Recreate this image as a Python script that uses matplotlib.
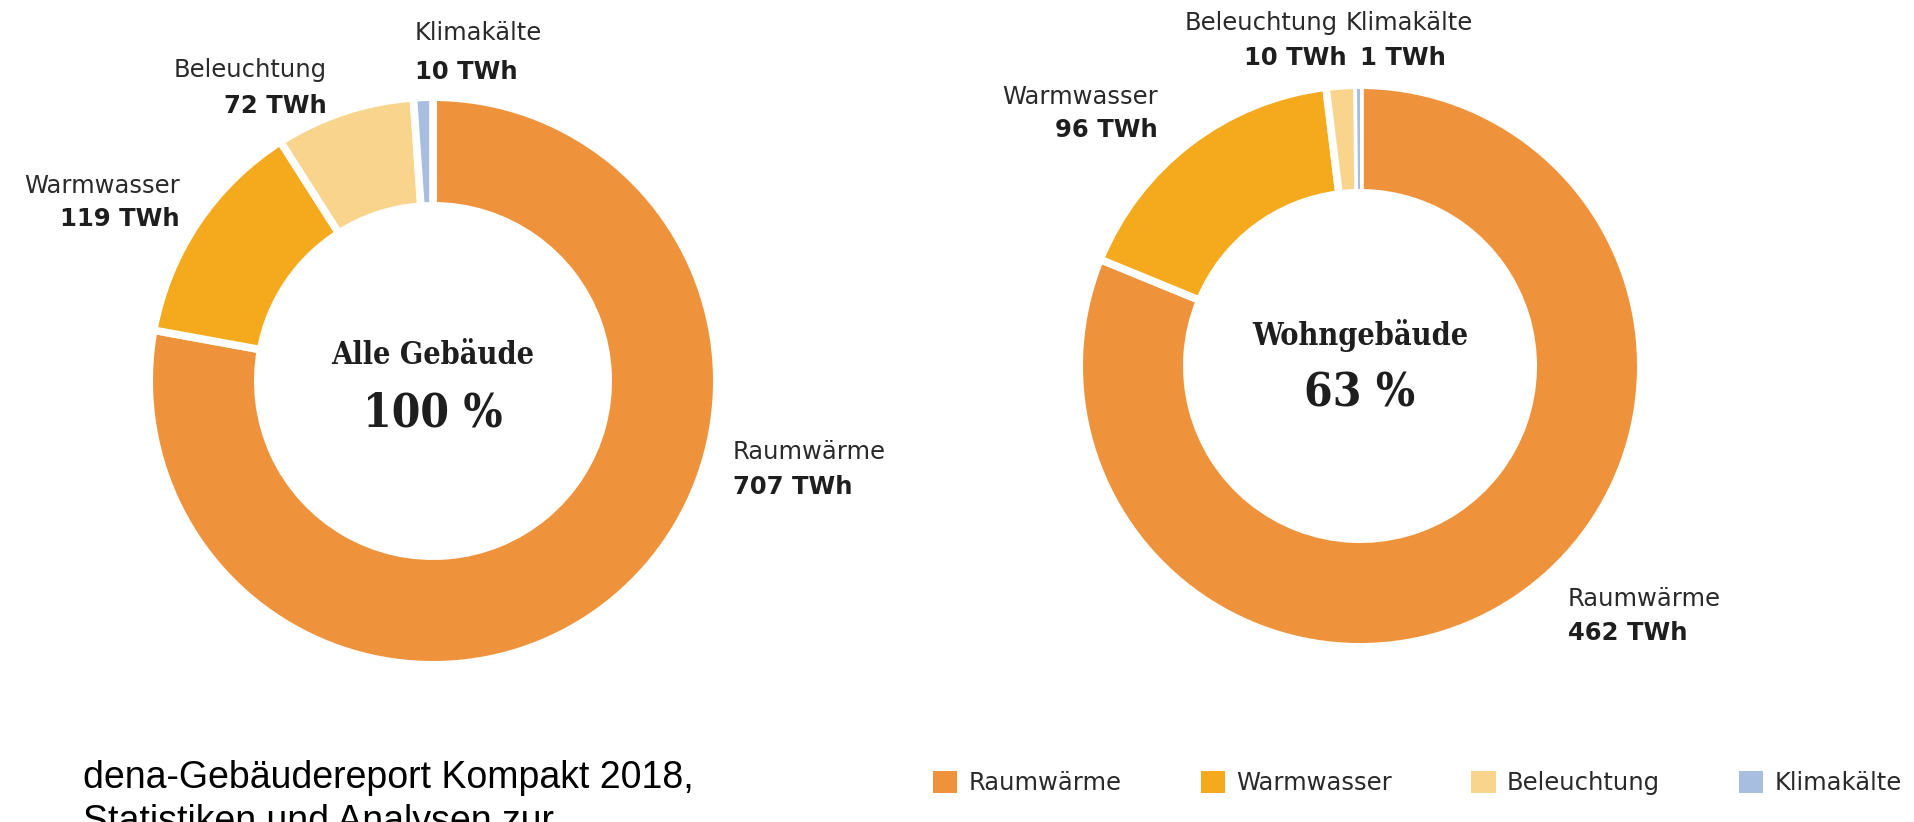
import math
import matplotlib
matplotlib.use("Agg")
import matplotlib.pyplot as plt
from matplotlib.patches import Patch

# ---------------- data ----------------
categories = ["Raumwärme", "Warmwasser", "Beleuchtung", "Klimakälte"]
colors = ["#EE933C", "#F4AA1C", "#F9D48D", "#A7BEE0"]
alle_values = [707, 119, 72, 10]
wohn_values = [462, 96, 10, 1]
unit = "TWh"
titles = ["Alle Gebäude", "Wohngebäude"]
shares = ["100 %", "63 %"]
source_lines = ["dena-Gebäudereport Kompakt 2018,", "Statistiken und Analysen zur"]

# ---------------- layout (pixels, from top-left) ----------------
W, H = 1915, 822
fig = plt.figure(figsize=(W / 100, H / 100), dpi=100)
fig.patch.set_facecolor("white")

def fx(x):
    return x / W

def fy(y):
    return 1 - y / H

TXT = "#1e1e1e"
SANS = ["DejaVu Sans"]
LBL_FS = 17.5
LW_PT = 5.5
HALF = LW_PT * 100 / 72 / 2


def donut(cx, cy, r_out, r_in, values):
    R = r_out + HALF
    ax = fig.add_axes([fx(cx - R), fy(cy + R), 2 * R / W, 2 * R / H])
    wedges, _ = ax.pie(values, colors=colors, startangle=90, counterclock=False,
                       radius=1,
                       wedgeprops=dict(width=(R - (r_in - HALF)) / R,
                                       edgecolor="white", linewidth=LW_PT))
    total = sum(values)
    for w, v in zip(wedges, values):
        arc = v / total * 2 * math.pi * r_out
        if arc < 2 * HALF + 2:
            w.set_linewidth(0)
            w.set_radius(r_out / R)
            w.set_width((r_out - r_in) / R)
            w.set_zorder(w.get_zorder() + 2)
    ax.set_xlim(-1, 1)
    ax.set_ylim(-1, 1)
    ax.set_aspect("equal")
    ax.axis("off")
    return ax


donut(433, 381, 280, 179, alle_values)
donut(1360, 366, 277, 177, wohn_values)

# label anchors: (x_name, y_name, x_value, y_value, ha)
left_pos = [
    (733, 452, 733, 487, "left"),
    (180, 186, 180, 219, "right"),
    (327, 70, 327, 106, "right"),
    (415, 33, 415, 72, "left"),
]
right_pos = [
    (1568, 599, 1568, 633, "left"),
    (1158, 97, 1158, 130, "right"),
    (1338, 23, 1347, 58, "right"),
    (1346, 23, 1360, 58, "left"),
]

for values, pos in ((alle_values, left_pos), (wohn_values, right_pos)):
    for cat, v, (xn, yn, xv, yv, ha) in zip(categories, values, pos):
        fig.text(fx(xn), fy(yn), cat, ha=ha, va="center", fontsize=LBL_FS,
                 color="#2a2a2a", family=SANS)
        fig.text(fx(xv), fy(yv), f"{v} {unit}", ha=ha, va="center",
                 fontsize=LBL_FS, fontweight="bold", color=TXT, family=SANS)

# centre texts
centres = [(433, 355, 413), (1360, 335, 393)]
for t, s, (cx, yt, ys) in zip(titles, shares, centres):
    fig.text(fx(cx), fy(yt), t, ha="center", va="center", fontsize=22,
             fontweight="bold", fontstretch="condensed", family=["DejaVu Serif"],
             color=TXT)
    fig.text(fx(cx), fy(ys), s, ha="center", va="center", fontsize=33,
             fontweight="bold", fontstretch="condensed", family=["DejaVu Serif"],
             color=TXT)

# source text (cut off at the bottom like the original)
fig.text(fx(83), fy(778), source_lines[0], ha="left", va="center", fontsize=27,
         family=["Liberation Sans", "DejaVu Sans"], color="black")
fig.text(fx(83), fy(822), source_lines[1], ha="left", va="center", fontsize=27,
         family=["Liberation Sans", "DejaVu Sans"], color="black")

# legend
handles = [Patch(facecolor=c, edgecolor="none", label=l) for c, l in zip(colors, categories)]
fig.legend(handles=handles, loc="center left", bbox_to_anchor=(fx(933), fy(783)),
           ncol=4, frameon=False, prop={"family": SANS, "size": LBL_FS},
           labelcolor="#2a2a2a", handlelength=1.0, handleheight=1.0,
           handletextpad=0.45, columnspacing=3.27, borderpad=0, borderaxespad=0)

fig.savefig("out.png", dpi=100, facecolor="white")
